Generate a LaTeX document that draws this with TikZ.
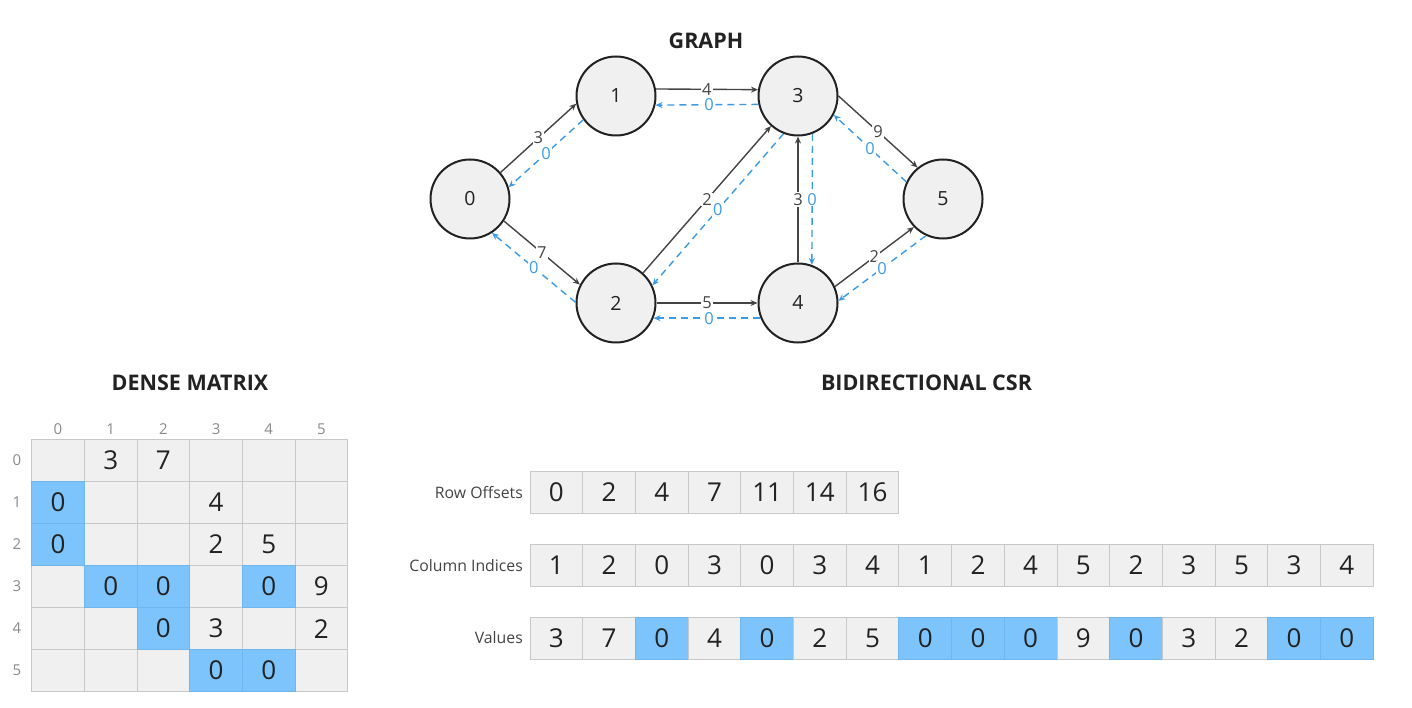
\documentclass[tikz,border=0pt]{standalone}
\usepackage{fontspec}
\setmainfont{Open Sans}
\usetikzlibrary{arrows.meta}
\definecolor{cellgray}{HTML}{F0F0F0}
\definecolor{cellline}{HTML}{C8C8C8}
\definecolor{hl}{HTML}{7DC4FC}
\definecolor{hlline}{HTML}{70B6EC}
\definecolor{blueline}{HTML}{3C9BE6}
\definecolor{ink}{HTML}{222222}
\definecolor{edgeink}{HTML}{444444}
\definecolor{hdrgray}{HTML}{8A8A8A}
\definecolor{lblgray}{HTML}{444444}
\begin{document}
\begin{tikzpicture}[x=1pt,y=-1pt,
  vert/.style={circle,draw=ink,line width=2pt,fill=cellgray,minimum size=79pt,inner sep=0pt,font=\fontsize{19.5}{22}\selectfont,text=ink},
  fwd/.style={draw=edgeink,line width=1.4pt,-{Stealth[length=7pt,width=6pt]}},
  bwd/.style={draw=blueline,line width=1.4pt,dash pattern=on 7pt off 5pt,-{Stealth[length=7pt,width=6pt]}},
  wlab/.style={fill=white,inner sep=1pt,font=\fontsize{16.5}{18}\selectfont,text=edgeink},
  blab/.style={fill=white,inner sep=1pt,font=\fontsize{16.5}{18}\selectfont,text=blueline},
  title/.style={font=\bfseries\fontsize{21.5}{24}\selectfont,text=ink},
  mcell/.style={draw=cellline,line width=1pt,fill=cellgray,minimum width=52.67pt,minimum height=42.07pt,inner sep=0pt,outer sep=0pt},
  acell/.style={draw=cellline,line width=1pt,fill=cellgray,minimum width=52.7pt,minimum height=42pt,inner sep=0pt,outer sep=0pt},
  hlcell/.style={fill=hl,draw=hlline},
  num/.style={font=\fontsize{26}{30}\selectfont,text=ink,inner sep=0pt},
  hdr/.style={font=\fontsize{15}{17}\selectfont,text=hdrgray,inner sep=0pt},
  rowlab/.style={font=\fontsize{15.8}{18}\selectfont,text=lblgray,anchor=east,inner sep=0pt}
]
\useasboundingbox[fill=white] (0,0) rectangle (1412,708);

% ---------------- GRAPH ----------------
\node[title] (tgraph) at (706,41) {GRAPH};
\node[vert] (n0) at (470,199) {0};
\node[vert] (n1) at (616,96) {1};
\node[vert] (n2) at (616,303) {2};
\node[vert] (n3) at (798,96) {3};
\node[vert] (n4) at (798,303) {4};
\node[vert] (n5) at (943,199) {5};

\draw[fwd] (n0.41) -- node[wlab]{3} (n1.191);
\draw[bwd] (n1.216) -- node[blab]{0} (n0.17);
\draw[fwd] (n1.10) -- node[wlab]{4} (n3.171);
\draw[bwd] (n3.192) -- node[blab,pos=0.48]{0} (n1.347);
\draw[fwd] (n0.327) -- node[wlab]{7} (n2.153);
\draw[bwd] (n2.179) -- node[blab]{0} (n0.303);
\draw[fwd] (n2.48) -- node[wlab]{2} (n3.228);
\draw[bwd] (n3.249) -- node[blab]{0} (n2.26);
\draw[fwd] (n4.90) -- node[wlab]{3} (n3.270);
\draw[bwd] (n3.291) -- node[blab]{0} (n4.70);
\draw[fwd] (n3.0) -- node[wlab]{9} (n5.129);
\draw[bwd] (n5.155) -- node[blab]{0} (n3.332);
\draw[fwd] (n4.24) -- node[wlab]{2} (n5.224);
\draw[bwd] (n5.245) -- node[blab]{0} (n4.3);
\draw[fwd] (n2.0) -- node[wlab]{5} (n4.180);
\draw[bwd] (n4.202) -- node[blab,pos=0.48]{0} (n2.338);

% ---------------- DENSE MATRIX ----------------
\node[title] (tdense) at (190,383) {DENSE MATRIX};
\foreach \r in {0,...,5}{
  \foreach \c in {0,...,5}{
    \node[mcell] (m\r\c) at ({31.7+52.67*\c+26.33},{439.3+42.07*\r+21.03}) {};
  }
}
\foreach \r/\c in {1/0,2/0,3/1,3/2,3/4,4/2,5/3,5/4}{
  \node[mcell,hlcell] (mh\r\c) at (m\r\c) {};
}
\foreach \r/\c/\v in {0/1/3,0/2/7,1/0/0,1/3/4,2/0/0,2/3/2,2/4/5,3/1/0,3/2/0,3/4/0,3/5/9,4/2/0,4/3/3,4/5/2,5/3/0,5/4/0}{
  \node[num] (mv\r\c) at (m\r\c) {\v};
}
\foreach \c in {0,...,5}{
  \node[hdr] (ch\c) at ([yshift=10pt]m0\c.north) {\c};
}
\foreach \r in {0,...,5}{
  \node[hdr] (rh\r) at ([xshift=-14.7pt]m\r0.west) {\r};
}

% ---------------- CSR ----------------
\node[title] (tcsr) at (926.5,383) {BIDIRECTIONAL CSR};

\foreach \v [count=\i from 0] in {0,2,4,7,11,14,16}{
  \node[acell] (ro\i) at ({530+52.7*\i+26.35},492.5) {};
  \node[num] (rov\i) at (ro\i) {\v};
}
\node[rowlab] (lro) at (523,492.5) {Row Offsets};

\foreach \v [count=\i from 0] in {1,2,0,3,0,3,4,1,2,4,5,2,3,5,3,4}{
  \node[acell] (ci\i) at ({530+52.7*\i+26.35},565.3) {};
  \node[num] (civ\i) at (ci\i) {\v};
}
\node[rowlab] (lci) at (523,565.3) {Column Indices};

\foreach \v/\b [count=\i from 0] in {3/0,7/0,0/1,4/0,0/1,2/0,5/0,0/1,0/1,0/1,9/0,0/1,3/0,2/0,0/1,0/1}{
  \ifnum\b=1
    \node[acell,hlcell] (va\i) at ({530+52.7*\i+26.35},638) {};
  \else
    \node[acell] (va\i) at ({530+52.7*\i+26.35},638) {};
  \fi
  \node[num] (vav\i) at (va\i) {\v};
}
\node[rowlab] (lva) at (523,638) {Values};
\end{tikzpicture}
\end{document}
